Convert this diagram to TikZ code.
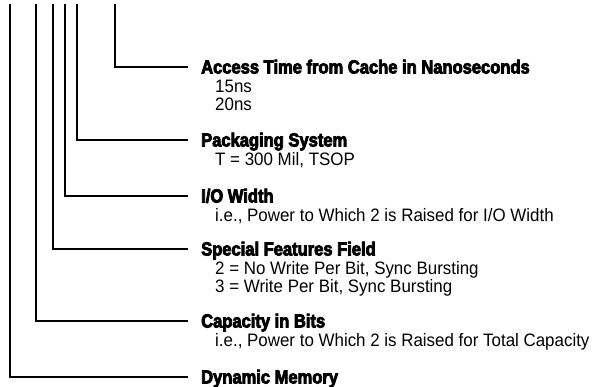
\documentclass[tikz,border=0pt]{standalone}
\usepackage{fontspec}
\setmainfont{Liberation Sans}
\newfontfamily\titlefont[FakeStretch=0.87,FakeBold=4]{Liberation Sans Bold}
\newfontfamily\bodyfont[FakeStretch=0.94]{Liberation Sans}
\begin{document}
\begin{tikzpicture}[x=1pt,y=-1pt,
  lead/.style={line width=1.6pt,black},
  ttl/.style={anchor=base west,inner sep=0pt,font=\titlefont\fontsize{19}{20}\selectfont},
  bdy/.style={anchor=base west,inner sep=0pt,font=\bodyfont\fontsize{18}{18}\selectfont}]
\useasboundingbox (0,0) rectangle (600,387);
% top ends of leaders
\coordinate (t1) at (115,4);
\coordinate (t2) at (77,4);
\coordinate (t3) at (65,4);
\coordinate (t4) at (53,4);
\coordinate (t5) at (36,4);
\coordinate (t6) at (10,4);
% right ends of leaders
\coordinate (e1) at (188,67);
\coordinate (e2) at (188,140);
\coordinate (e3) at (188,196);
\coordinate (e4) at (188,249);
\coordinate (e5) at (188,321);
\coordinate (e6) at (188,377);
% labels
\node[ttl] (a) at (201,73.5) {Access Time from Cache in Nanoseconds};
\node[bdy] (a1) at (215,93) {15ns};
\node[bdy] (a2) at (215,111) {20ns};
\node[ttl] (p) at (201,146.5) {Packaging System};
\node[bdy] (p1) at (215,166) {T = 300 Mil, TSOP};
\node[ttl] (w) at (201,202.5) {I/O Width};
\node[bdy] (w1) at (215,222) {i.e., Power to Which 2 is Raised for I/O Width};
\node[ttl] (s) at (201,255.5) {Special Features Field};
\node[bdy] (s1) at (215,275) {2 = No Write Per Bit, Sync Bursting};
\node[bdy] (s2) at (215,293) {3 = Write Per Bit, Sync Bursting};
\node[ttl] (c) at (201,327.5) {Capacity in Bits};
\node[bdy] (c1) at (215,347) {i.e., Power to Which 2 is Raised for Total Capacity};
\node[ttl] (d) at (201,383.5) {Dynamic Memory};
% leaders
\draw[lead] (t1) |- (e1);
\draw[lead] (t2) |- (e2);
\draw[lead] (t3) |- (e3);
\draw[lead] (t4) |- (e4);
\draw[lead] (t5) |- (e5);
\draw[lead] (t6) |- (e6);
\end{tikzpicture}
\end{document}
